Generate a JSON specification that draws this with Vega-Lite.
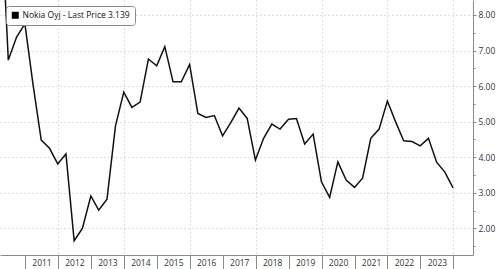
{
  "$schema": "https://vega.github.io/schema/vega-lite/v6.json",
  "width": 473,
  "height": 255,
  "autosize": {"type": "none"},
  "padding": {"left": 0, "top": 0, "right": 27, "bottom": 14},
  "background": "white",
  "config": {
    "view": {"stroke": null},
    "font": "Open Sans",
    "axis": {"domainColor": "#8a8a8a", "tickColor": "#8a8a8a", "labelColor": "#333333", "gridColor": "#bdbdbd", "gridDash": [1, 3], "gridWidth": 1, "title": null}
  },
  "data": {
    "values": [
      {"date": "2010-03-31", "price": 11.5, "series": "Nokia Oyj - Last Price 3.139"},
      {"date": "2010-06-30", "price": 6.73, "series": "Nokia Oyj - Last Price 3.139"},
      {"date": "2010-09-30", "price": 7.38, "series": "Nokia Oyj - Last Price 3.139"},
      {"date": "2010-12-31", "price": 7.75, "series": "Nokia Oyj - Last Price 3.139"},
      {"date": "2011-03-31", "price": 6.05, "series": "Nokia Oyj - Last Price 3.139"},
      {"date": "2011-06-30", "price": 4.48, "series": "Nokia Oyj - Last Price 3.139"},
      {"date": "2011-09-30", "price": 4.25, "series": "Nokia Oyj - Last Price 3.139"},
      {"date": "2011-12-30", "price": 3.81, "series": "Nokia Oyj - Last Price 3.139"},
      {"date": "2012-03-30", "price": 4.09, "series": "Nokia Oyj - Last Price 3.139"},
      {"date": "2012-06-29", "price": 1.65, "series": "Nokia Oyj - Last Price 3.139"},
      {"date": "2012-09-28", "price": 2.0, "series": "Nokia Oyj - Last Price 3.139"},
      {"date": "2012-12-31", "price": 2.91, "series": "Nokia Oyj - Last Price 3.139"},
      {"date": "2013-03-28", "price": 2.51, "series": "Nokia Oyj - Last Price 3.139"},
      {"date": "2013-06-28", "price": 2.82, "series": "Nokia Oyj - Last Price 3.139"},
      {"date": "2013-09-30", "price": 4.88, "series": "Nokia Oyj - Last Price 3.139"},
      {"date": "2013-12-31", "price": 5.83, "series": "Nokia Oyj - Last Price 3.139"},
      {"date": "2014-03-31", "price": 5.4, "series": "Nokia Oyj - Last Price 3.139"},
      {"date": "2014-06-30", "price": 5.55, "series": "Nokia Oyj - Last Price 3.139"},
      {"date": "2014-09-30", "price": 6.76, "series": "Nokia Oyj - Last Price 3.139"},
      {"date": "2014-12-31", "price": 6.57, "series": "Nokia Oyj - Last Price 3.139"},
      {"date": "2015-03-31", "price": 7.11, "series": "Nokia Oyj - Last Price 3.139"},
      {"date": "2015-06-30", "price": 6.12, "series": "Nokia Oyj - Last Price 3.139"},
      {"date": "2015-09-30", "price": 6.12, "series": "Nokia Oyj - Last Price 3.139"},
      {"date": "2015-12-31", "price": 6.61, "series": "Nokia Oyj - Last Price 3.139"},
      {"date": "2016-03-31", "price": 5.23, "series": "Nokia Oyj - Last Price 3.139"},
      {"date": "2016-06-30", "price": 5.12, "series": "Nokia Oyj - Last Price 3.139"},
      {"date": "2016-09-30", "price": 5.17, "series": "Nokia Oyj - Last Price 3.139"},
      {"date": "2016-12-30", "price": 4.6, "series": "Nokia Oyj - Last Price 3.139"},
      {"date": "2017-03-31", "price": 4.97, "series": "Nokia Oyj - Last Price 3.139"},
      {"date": "2017-06-30", "price": 5.38, "series": "Nokia Oyj - Last Price 3.139"},
      {"date": "2017-09-29", "price": 5.09, "series": "Nokia Oyj - Last Price 3.139"},
      {"date": "2017-12-29", "price": 3.92, "series": "Nokia Oyj - Last Price 3.139"},
      {"date": "2018-03-30", "price": 4.53, "series": "Nokia Oyj - Last Price 3.139"},
      {"date": "2018-06-29", "price": 4.93, "series": "Nokia Oyj - Last Price 3.139"},
      {"date": "2018-09-28", "price": 4.79, "series": "Nokia Oyj - Last Price 3.139"},
      {"date": "2018-12-31", "price": 5.07, "series": "Nokia Oyj - Last Price 3.139"},
      {"date": "2019-03-29", "price": 5.09, "series": "Nokia Oyj - Last Price 3.139"},
      {"date": "2019-06-28", "price": 4.37, "series": "Nokia Oyj - Last Price 3.139"},
      {"date": "2019-09-30", "price": 4.65, "series": "Nokia Oyj - Last Price 3.139"},
      {"date": "2019-12-31", "price": 3.31, "series": "Nokia Oyj - Last Price 3.139"},
      {"date": "2020-03-31", "price": 2.87, "series": "Nokia Oyj - Last Price 3.139"},
      {"date": "2020-06-30", "price": 3.87, "series": "Nokia Oyj - Last Price 3.139"},
      {"date": "2020-09-30", "price": 3.36, "series": "Nokia Oyj - Last Price 3.139"},
      {"date": "2020-12-31", "price": 3.15, "series": "Nokia Oyj - Last Price 3.139"},
      {"date": "2021-03-31", "price": 3.41, "series": "Nokia Oyj - Last Price 3.139"},
      {"date": "2021-06-30", "price": 4.53, "series": "Nokia Oyj - Last Price 3.139"},
      {"date": "2021-09-30", "price": 4.79, "series": "Nokia Oyj - Last Price 3.139"},
      {"date": "2021-12-31", "price": 5.58, "series": "Nokia Oyj - Last Price 3.139"},
      {"date": "2022-03-31", "price": 5.0, "series": "Nokia Oyj - Last Price 3.139"},
      {"date": "2022-06-30", "price": 4.46, "series": "Nokia Oyj - Last Price 3.139"},
      {"date": "2022-09-30", "price": 4.44, "series": "Nokia Oyj - Last Price 3.139"},
      {"date": "2022-12-30", "price": 4.32, "series": "Nokia Oyj - Last Price 3.139"},
      {"date": "2023-03-31", "price": 4.53, "series": "Nokia Oyj - Last Price 3.139"},
      {"date": "2023-06-30", "price": 3.86, "series": "Nokia Oyj - Last Price 3.139"},
      {"date": "2023-09-29", "price": 3.58, "series": "Nokia Oyj - Last Price 3.139"},
      {"date": "2023-12-29", "price": 3.139, "series": "Nokia Oyj - Last Price 3.139"}
    ]
  },
  "mark": {"type": "line", "strokeWidth": 1.5, "clip": true},
  "encoding": {
    "x": {
      "field": "date",
      "type": "temporal",
      "scale": {"domain": [{"year": 2010, "month": 3, "date": 30}, {"year": 2024, "month": 8, "date": 6}]},
      "axis": {
        "values": [
          {"year": 2011, "month": 1, "date": 1}, {"year": 2012, "month": 1, "date": 1}, {"year": 2013, "month": 1, "date": 1},
          {"year": 2014, "month": 1, "date": 1}, {"year": 2015, "month": 1, "date": 1}, {"year": 2016, "month": 1, "date": 1},
          {"year": 2017, "month": 1, "date": 1}, {"year": 2018, "month": 1, "date": 1}, {"year": 2019, "month": 1, "date": 1},
          {"year": 2020, "month": 1, "date": 1}, {"year": 2021, "month": 1, "date": 1}, {"year": 2022, "month": 1, "date": 1},
          {"year": 2023, "month": 1, "date": 1}, {"year": 2024, "month": 1, "date": 1}
        ],
        "labelExpr": "year(datum.value) < 2024 ? timeFormat(datum.value, '%Y') : ''",
        "labelOffset": 16.5,
        "labelAlign": "center",
        "labelBaseline": "top",
        "labelPadding": -11,
        "labelFontSize": 8.5,
        "labelFlush": false,
        "labelOverlap": false,
        "tickSize": 14,
        "grid": true,
        "gridOpacity": {"condition": {"test": "year(datum.value) % 2 == 0", "value": 1}, "value": 0}
      }
    },
    "y": {
      "field": "price",
      "type": "quantitative",
      "scale": {"domain": [1.25, 8.42], "nice": false, "zero": false},
      "axis": {
        "orient": "right",
        "values": [1.5, 2, 2.5, 3, 3.5, 4, 4.5, 5, 5.5, 6, 6.5, 7, 7.5, 8],
        "labelExpr": "datum.value % 1 == 0 ? format(datum.value, '.2f') : ''",
        "labelFontSize": 8.5,
        "labelPadding": 2,
        "tickSize": {"condition": {"test": "datum.value % 1 == 0", "value": 3}, "value": 2},
        "grid": true,
        "gridOpacity": {"condition": {"test": "datum.value % 1 == 0", "value": 1}, "value": 0}
      }
    },
    "color": {
      "field": "series",
      "type": "nominal",
      "scale": {"range": ["#111111"]},
      "legend": {
        "title": null,
        "orient": "top-left",
        "offset": 6,
        "padding": 5,
        "fillColor": "white",
        "strokeColor": "#8a8a8a",
        "cornerRadius": 3,
        "symbolType": "square",
        "symbolSize": 49,
        "symbolFillColor": "#000000",
        "symbolStrokeWidth": 0,
        "labelFontSize": 8.5,
        "labelColor": "#111111",
        "labelOffset": 3
      }
    }
  }
}
